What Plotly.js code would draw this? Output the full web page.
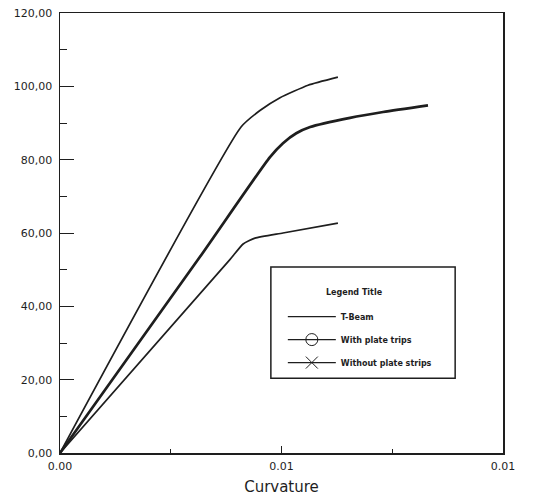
<!DOCTYPE html>
<html>
<head>
<meta charset="utf-8">
<script src="https://cdn.plot.ly/plotly-3.0.1.min.js"></script>
<style>html,body{margin:0;padding:0;background:#fff;}#chart{width:536px;height:501px;}</style>
</head>
<body>
<div id="chart"></div>
<script>
// Curve 1 (upper)
const xTop = [0, 0.00613, 0.00677, 0.00745, 0.00840, 0.00941];
const yTop = [0, 88.9, 93.4, 96.9, 100.3, 102.5];
// Curve 2 (middle, thick)
const xMid = [0, 0.00474, 0.00711, 0.00755, 0.00800, 0.00847, 0.00982, 0.01094, 0.01246];
const yMid = [0, 53.5, 80.7, 84.5, 87.2, 88.9, 91.4, 93.0, 94.8];
// Curve 3 (lower)
const xLow = [0, 0.00576, 0.00620, 0.00660, 0.00755, 0.00941];
const yLow = [0, 52.8, 57.0, 58.6, 60.0, 62.7];

const legendNames = ["T-Beam", "With plate trips", "Without plate strips"];
const legendSymbols = [null, "circle-open", "x-thin-open"];
const legendTitle = "Legend Title";

const xTickVals = [0, 0.0075, 0.015];
const xTickText = ["0.00", "0.01", "0.01"];
const yTickVals = [0, 20, 40, 60, 80, 100, 120];
const yTickText = ["0,00", "20,00", "40,00", "60,00", "80,00", "100,00", "120,00"];
const xTitle = "Curvature";

const ink = "#1e1e1e";
const traces = [
  {x: xTop, y: yTop, mode: "lines", line: {color: ink, width: 1.7, shape: "spline", smoothing: 0.5}, showlegend: false, hoverinfo: "skip"},
  {x: xMid, y: yMid, mode: "lines", line: {color: ink, width: 2.7, shape: "spline", smoothing: 0.6}, showlegend: false, hoverinfo: "skip"},
  {x: xLow, y: yLow, mode: "lines", line: {color: ink, width: 1.7, shape: "spline", smoothing: 0.5}, showlegend: false, hoverinfo: "skip"}
];
legendNames.forEach((n, i) => {
  const t = {x: [null], y: [null], name: n, legendgroup: "g" + i, mode: "lines", line: {color: ink, width: 1.3}};
  if (legendSymbols[i]) {
    t.mode = "lines+markers";
    t.marker = {symbol: legendSymbols[i], size: 12, color: ink, line: {color: ink, width: 1}};
  }
  traces.push(t);
});

const layout = {
  width: 536, height: 501,
  margin: {l: 60, r: 33, t: 13, b: 48},
  paper_bgcolor: "#fff", plot_bgcolor: "#fff",
  font: {family: "DejaVu Sans", color: ink},
  showlegend: true,
  legend: {
    x: 0.503, y: 0.343, xanchor: "left", yanchor: "top",
    bgcolor: "rgba(0,0,0,0)", borderwidth: 0,
    font: {size: 8, family: "DejaVu Sans", color: ink, weight: "bold"},
    tracegroupgap: 4, itemwidth: 48
  },
  xaxis: {
    range: [0, 0.015], tickmode: "array", tickvals: xTickVals, ticktext: xTickText,
    ticks: "inside", ticklen: 7, tickwidth: 1, tickcolor: ink,
    minor: {tickvals: [0.00375, 0.01125], ticks: "inside", ticklen: 4, tickcolor: ink},
    showgrid: false, zeroline: false, showline: true, linecolor: ink, linewidth: 1.5, mirror: true,
    tickfont: {size: 11, color: ink}, ticklabelstandoff: 2,
    title: {text: xTitle, font: {size: 15, color: ink}, standoff: 10}
  },
  yaxis: {
    range: [0, 120], tickmode: "array", tickvals: yTickVals, ticktext: yTickText,
    ticks: "inside", ticklen: 14, tickwidth: 1, tickcolor: ink,
    minor: {dtick: 10, tick0: 0, ticks: "inside", ticklen: 7, tickcolor: ink},
    showgrid: false, zeroline: false, showline: true, linecolor: ink, linewidth: 1.5, mirror: true,
    tickfont: {size: 11, color: ink}, ticklabelstandoff: 4
  },
  shapes: [
    {type: "rect", xref: "paper", yref: "paper", x0: 0.476, x1: 0.892, y0: 0.170, y1: 0.423,
     line: {color: ink, width: 1.5}, fillcolor: "rgba(0,0,0,0)"}
  ],
  annotations: [
    {xref: "paper", yref: "paper", x: 0.664, y: 0.364, text: "<b>" + legendTitle + "</b>", showarrow: false,
     font: {size: 8, color: ink}, xanchor: "center", yanchor: "middle"}
  ]
};

Plotly.newPlot("chart", traces, layout, {displayModeBar: false, staticPlot: true});
</script>
</body>
</html>
